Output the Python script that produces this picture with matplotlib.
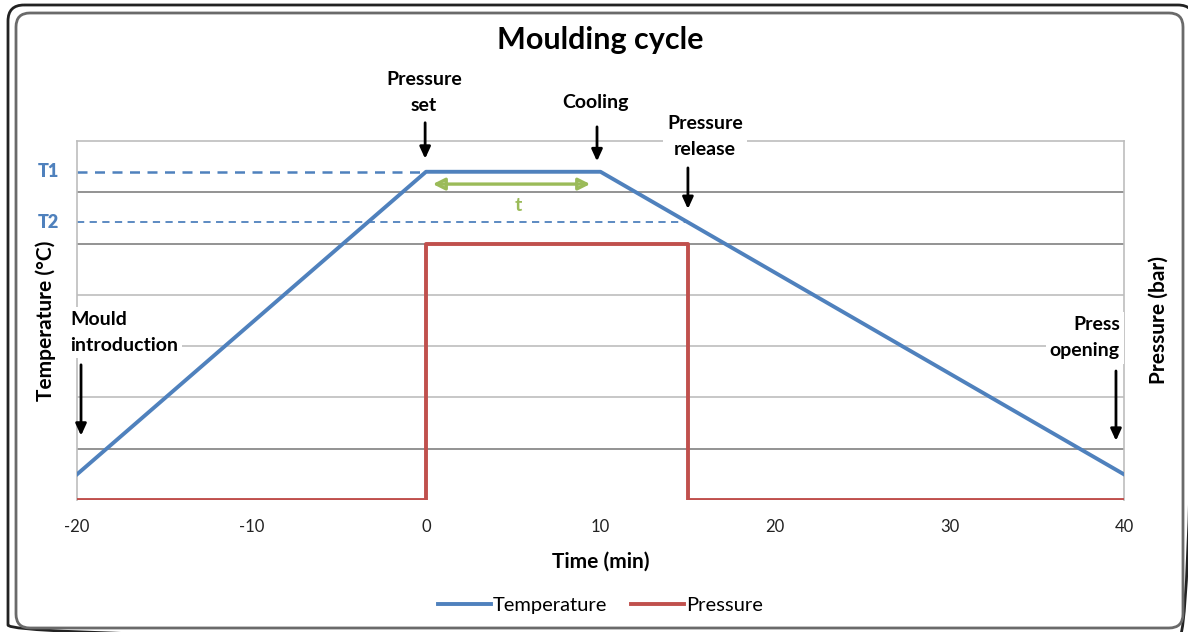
"""
Moulding cycle chart
"""
import matplotlib
matplotlib.use("Agg")
import matplotlib.pyplot as plt
from matplotlib.patches import FancyBboxPatch

plt.rcParams['font.family'] = ['Lato', 'DejaVu Sans']

# time (min) and levels in gridline units
temp_time = [-20, 0, 10, 40]
temp_value = [0.5, 6.4, 6.4, 0.5]
press_time = [-20, 0, 0, 15, 15, 40]
press_value = [0, 0, 5, 5, 0, 0]
t1_level = 6.4
t2_level = 5.42
t2_time = 15
x_ticks = [-20, -10, 0, 10, 20, 30, 40]

BLUE = "#4f81bd"
RED = "#c0504d"
GREEN = "#9bbb59"

W, H = 1188, 632
fig = plt.figure(figsize=(W / 100, H / 100), dpi=100)

# double rounded frame, drawn in pixel units
frame = fig.add_axes([0, 0, 1, 1])
frame.set_xlim(0, W)
frame.set_ylim(H, 0)
frame.axis("off")
frame.add_patch(FancyBboxPatch((8, 5), 1186, 636, boxstyle="round,pad=0,rounding_size=16",
                               fill=False, ec="#222222", lw=2))
frame.add_patch(FancyBboxPatch((16, 13), 1167, 615, boxstyle="round,pad=0,rounding_size=14",
                               fill=False, ec="#6a6a6a", lw=2))

ax = fig.add_axes([77 / W, 1 - 500 / H, 1047 / W, 359 / H])
ax.set_xlim(-20, 40)
ax.set_ylim(0, 7)

# gridlines
for level in range(1, 7):
    shade = "#808080" if level in (1, 5, 6) else "#bdbdbd"
    ax.axhline(level, color=shade, lw=1.2, zorder=1)

for side in ("left", "right", "top"):
    ax.spines[side].set_color("#bdbdbd")
    ax.spines[side].set_linewidth(1.2)
ax.spines["bottom"].set_visible(False)

ax.plot([-20, 0], [t1_level, t1_level], "--", color=BLUE, lw=1.8, dashes=(4, 3), zorder=2)
ax.plot([-20, t2_time], [t2_level, t2_level], "--", color=BLUE, lw=1.3, dashes=(4, 3), zorder=2)

ax.plot(temp_time, temp_value, color=BLUE, lw=2.8, label="Temperature", zorder=4)
ax.plot(press_time, press_value, color=RED, lw=2.8, label="Pressure", zorder=3)

ax.set_xticks(x_ticks)
ax.set_xticklabels([str(v) for v in x_ticks], fontsize=12, color="#222222")
ax.tick_params(axis="x", length=0, pad=14)
ax.set_yticks([])

ax.text(-21.65, t1_level, "T1", color=BLUE, fontsize=13, fontweight="heavy",
        ha="center", va="center", clip_on=False)
ax.text(-21.65, t2_level, "T2", color=BLUE, fontsize=13, fontweight="heavy",
        ha="center", va="center", clip_on=False)

ax.set_xlabel("Time (min)", fontsize=15, fontweight="bold", labelpad=12)
ax.set_ylabel("Temperature (°C)", fontsize=15, fontweight="bold", labelpad=15)
ax2 = ax.twinx()
ax2.set_ylim(0, 7)
ax2.set_yticks([])
ax2.set_ylabel("Pressure (bar)", fontsize=15, fontweight="bold", labelpad=18)
for side in ax2.spines:
    ax2.spines[side].set_visible(False)

fig.text(0.505, 1 - 40 / H, "Moulding cycle", fontsize=22, fontweight="bold",
         ha="center", va="center")

box = dict(facecolor="white", edgecolor="none", pad=3)
arrow = dict(arrowstyle="-|>,head_length=0.7,head_width=0.32", color="black", lw=2)
# label, text position, alignment, arrow x, arrow top, arrow tip
notes = [
    ("Pressure\nset", (-0.12, 7.94), "center", -0.05, 7.41, 6.6),
    ("Cooling", (9.74, 7.76), "center", 9.8, 7.33, 6.55),
    ("Pressure\nrelease", (15.99, 7.09), "center", 15.01, 6.53, 5.62),
    ("Mould\nintroduction", (-20.4, 3.26), "left", -19.77, 2.69, 1.2),
    ("Press\nopening", (39.77, 3.16), "right", 39.54, 2.57, 1.1),
]
for label, txt, align, ax_x, top, tip in notes:
    ax.annotate("", xy=(ax_x, tip), xytext=(ax_x, top), arrowprops=arrow,
                annotation_clip=False, zorder=6)
    ax.text(txt[0], txt[1], label, fontsize=14, fontweight="bold", ha=align,
            va="center", linespacing=1.65, bbox=box, zorder=5, clip_on=False)

ax.annotate("", xy=(0.23, 6.16), xytext=(9.57, 6.16),
            arrowprops=dict(arrowstyle="<|-|>,head_length=0.7,head_width=0.35",
                            color=GREEN, lw=2.4, fill=False), zorder=6)
ax.text(5.27, 5.75, "t", color=GREEN, fontsize=14, fontweight="bold",
        ha="center", va="center")

ax.legend(loc="center", bbox_to_anchor=(0.5, -0.295), ncol=2, frameon=False,
          fontsize=14.5, handlelength=2.6, handletextpad=0.1, columnspacing=1.2)

fig.savefig("out.png", dpi=100)
